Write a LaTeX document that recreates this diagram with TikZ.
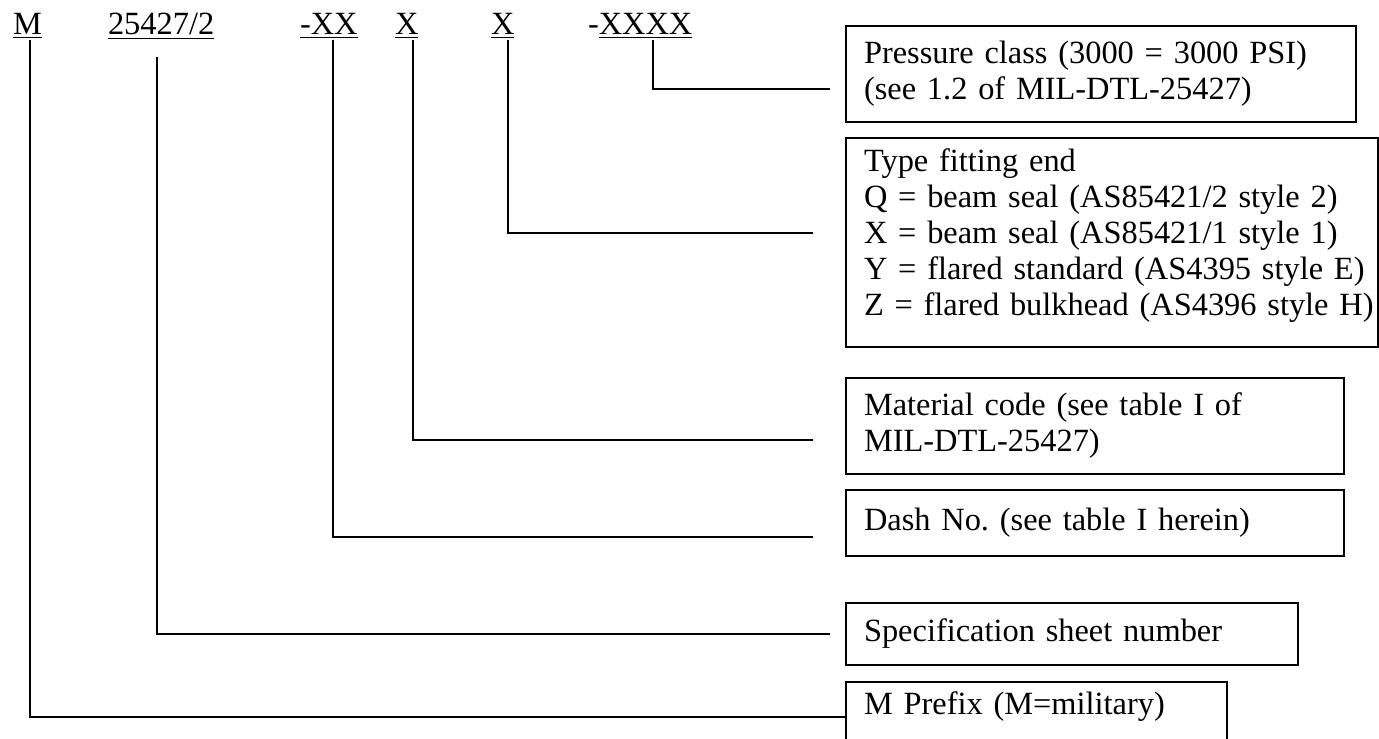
\documentclass[tikz,border=0pt]{standalone}
\usepackage{fontspec}
\setmainfont{Liberation Serif}
\usetikzlibrary{calc}
\frenchspacing
\begin{document}
\begin{tikzpicture}[x=0.5pt,y=-0.5pt,line width=1pt,
  lbl/.style={anchor=base west,inner sep=0pt,font=\fontsize{16.2}{18}\selectfont},
  infobox/.style={draw,line width=1pt,anchor=north west,align=left,inner xsep=9pt,inner ysep=0pt,font=\fontsize{16.2}{18}\selectfont},
  conn/.style={line width=1pt}]
\useasboundingbox (0,0) rectangle (1379,738);
\clip (0,0) rectangle (1379,738);
% code labels
\node[lbl] (lM) at (12,35) {\underline{M}};
\node[lbl] (l25) at (107,35) {\underline{25427/2}};
\node[lbl] (lXX) at (299,35) {\underline{-XX}};
\node[lbl] (lX1) at (394,35) {\underline{X}};
\node[lbl] (lX2) at (490,35) {\underline{X}};
\node[lbl] (lXXXX) at (587,35) {-\underline{XXXX}};
% line tops
\coordinate (tM) at (30,40);
\coordinate (t25) at (157,57);
\coordinate (tXX) at (333,40);
\coordinate (tX1) at (413,40);
\coordinate (tX2) at (508,40);
\coordinate (tXXXX) at (653,40);
% boxes
\node[infobox,minimum height=48pt,text width=237pt] (press) at (845,25)
  {Pressure class (3000 = 3000 PSI)\\(see 1.2 of MIL-DTL-25427)};
\node[infobox,minimum height=104.5pt,text width=255pt,inner xsep=5.5pt] (type) at (845,137)
  {\hspace*{3.5pt}\begin{tabular}{@{}l@{}}Type fitting end\\Q = beam seal (AS85421/2 style 2)\\X = beam seal (AS85421/1 style 1)\\Y = flared standard (AS4395 style E)\\Z = flared bulkhead (AS4396 style H)\\[6pt]\end{tabular}};
\node[infobox,minimum height=48pt,text width=231pt] (mat) at (845,377)
  {Material code (see table I of\\MIL-DTL-25427)};
\node[infobox,minimum height=33pt,text width=231pt] (dash) at (845,489)
  {Dash No. (see table I herein)};
\node[infobox,minimum height=31pt,text width=208pt] (spec) at (845,602)
  {Specification sheet number};
\node[infobox,minimum height=36pt,text width=172.5pt,text height=11pt,text depth=15pt] (mpre) at (845,681)
  {M Prefix (M=military)};
% connectors
\draw[conn] (tXXXX) |- ($(press.north west)+(-15,64)$);
\draw[conn] (tX2) |- ($(type.north west)+(-32,96)$);
\draw[conn] (tX1) |- ($(mat.north west)+(-32,63)$);
\draw[conn] (tXX) |- ($(dash.north west)+(-32,48)$);
\draw[conn] (t25) |- ($(spec.west)+(-15,0)$);
\draw[conn] (tM) |- ($(mpre.north west)+(0,36)$);
\end{tikzpicture}
\end{document}
